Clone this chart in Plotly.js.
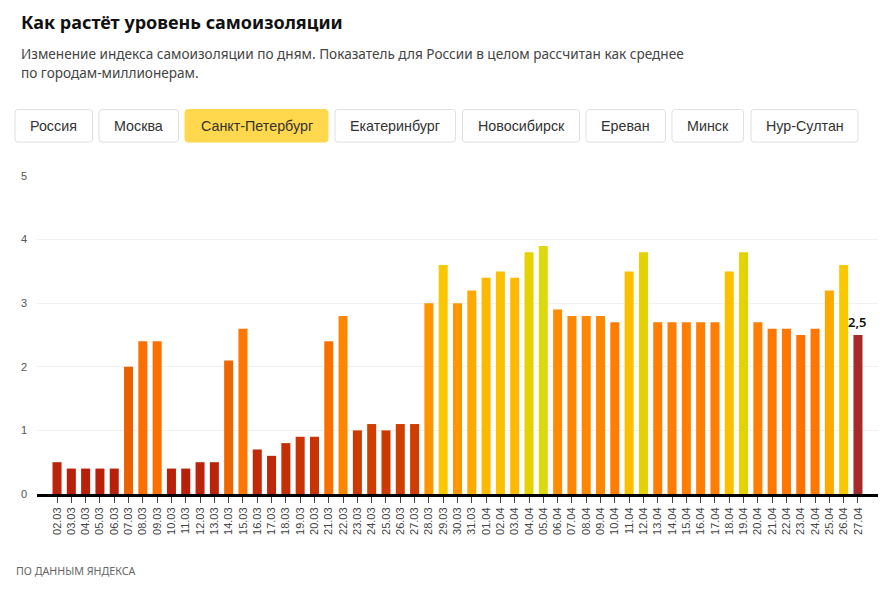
<!DOCTYPE html>
<html>
<head>
<meta charset="utf-8">
<script src="https://cdn.plot.ly/plotly-3.0.1.min.js"></script>
<style>html,body{margin:0;padding:0;background:#fff}#chart{width:892px;height:590px}</style>
</head>
<body>
<div id="chart"></div>
<script>
const dates = ["02.03","03.03","04.03","05.03","06.03","07.03","08.03","09.03","10.03","11.03","12.03","13.03","14.03","15.03","16.03","17.03","18.03","19.03","20.03","21.03","22.03","23.03","24.03","25.03","26.03","27.03","28.03","29.03","30.03","31.03","01.04","02.04","03.04","04.04","05.04","06.04","07.04","08.04","09.04","10.04","11.04","12.04","13.04","14.04","15.04","16.04","17.04","18.04","19.04","20.04","21.04","22.04","23.04","24.04","25.04","26.04","27.04"];
const values = [0.5,0.4,0.4,0.4,0.4,2.0,2.4,2.4,0.4,0.4,0.5,0.5,2.1,2.6,0.7,0.6,0.8,0.9,0.9,2.4,2.8,1.0,1.1,1.0,1.1,1.1,3.0,3.6,3.0,3.2,3.4,3.5,3.4,3.8,3.9,2.9,2.8,2.8,2.8,2.7,3.5,3.8,2.7,2.7,2.7,2.7,2.7,3.5,3.8,2.7,2.6,2.6,2.5,2.6,3.2,3.6,2.5];
const colorValues = ["0.4","0.5","0.6","0.7","0.8","0.9","1","1.1","2","2.1","2.4","2.5","2.6","2.7","2.8","2.9","3","3.2","3.4","3.5","3.6","3.8","3.9"];
const colorList = ["#b8200a","#bb230a","#bd270a","#c02a08","#c43006","#c93404","#cc3a00","#cf3d00","#ea6200","#ee6600","#fb6f00","#fd7200","#ff7600","#ff7d00","#ff8600","#ff8c00","#ff9600","#ffa800","#fdb900","#fcc000","#f9c800","#e5d205","#dcd90f"];
const lastColor = "#a52a2a";
const lastLabel = "2,5";
const cityLabels = ["Россия","Москва","Санкт-Петербург","Екатеринбург","Новосибирск","Ереван","Минск","Нур-Султан"];
const cityLeft = [15,99,185,335,462.5,586,672,751];
const cityRight = [92.5,178.5,328,455.5,579.5,665.5,743.5,858];
const activeCity = "Санкт-Петербург";
const titleText = "Как растёт уровень самоизоляции";
const subtitleLines = ["Изменение индекса самоизоляции по дням. Показатель для России в целом рассчитан как среднее","по городам-миллионерам."];
const sourceText = "ПО ДАННЫМ ЯНДЕКСА";

const W = 892, H = 590, mL = 37, mR = 14, mT = 175.5, mB = 96;
const px = x => (x - mL) / (W - mL - mR);
const py = y => 1 - (y - mT) / (H - mT - mB);
const colorOf = v => colorList[colorValues.indexOf(String(v))];
const barColors = values.map((v, i) => i === values.length - 1 ? lastColor : colorOf(v));

function roundRect(l, t, r, b, c) {
  const X = px, Y = py;
  return `M${X(l + c)},${Y(t)} L${X(r - c)},${Y(t)} Q${X(r)},${Y(t)} ${X(r)},${Y(t + c)} L${X(r)},${Y(b - c)} Q${X(r)},${Y(b)} ${X(r - c)},${Y(b)} L${X(l + c)},${Y(b)} Q${X(l)},${Y(b)} ${X(l)},${Y(b - c)} L${X(l)},${Y(t + c)} Q${X(l)},${Y(t)} ${X(l + c)},${Y(t)} Z`;
}
const note = (text, x, y, size, color, family, anchor) => ({
  text, x: px(x), y: py(y), xref: "paper", yref: "paper", showarrow: false,
  xanchor: anchor || "left", yanchor: "middle",
  font: {size, color, family}
});

const shapes = cityLabels.map((c, i) => ({
  type: "path", xref: "paper", yref: "paper", layer: "above",
  path: roundRect(cityLeft[i], 109, cityRight[i], 141.5, 3),
  fillcolor: c === activeCity ? "#ffd84d" : "#ffffff",
  line: {color: c === activeCity ? "#ffd84d" : "#dfdfdf", width: 1}
}));
const annotations = [
  note(subtitleLines[0], 19, 53, 13.6, "#444444", "Noto Sans"),
  note(subtitleLines[1], 19, 71.5, 13.6, "#444444", "Noto Sans"),
  note(sourceText, 13.5, 571, 10.7, "#666666", "Noto Sans"),
  {text: lastLabel, x: dates.length - 1, y: values[values.length - 1], xref: "x", yref: "y",
   showarrow: false, xanchor: "center", yanchor: "bottom", yshift: 2,
   font: {size: 13, color: "#111111", family: "Noto Sans", weight: 600}}
].concat(cityLabels.map((c, i) => note(c, (cityLeft[i] + cityRight[i]) / 2, 125.5, 14.3, "#333333", "Liberation Sans", "center")));

Plotly.newPlot("chart", [{
  type: "bar",
  x: dates, y: values,
  marker: {color: barColors, line: {width: 0}},
  cliponaxis: false,
  hoverinfo: "x+y"
}], {
  width: W, height: H,
  margin: {l: mL, r: mR, t: mT, b: mB, pad: 0},
  paper_bgcolor: "#ffffff", plot_bgcolor: "#ffffff",
  bargap: 0.37,
  showlegend: false,
  title: {text: titleText, x: 21 / W, xanchor: "left", y: 1 - 23 / H, yanchor: "middle",
    font: {size: 18, color: "#111111", family: "Noto Sans", weight: 700}},
  xaxis: {
    type: "category", range: [-1.4, 57.4], fixedrange: true,
    tickmode: "array", tickvals: dates, ticktext: dates,
    tickangle: -90, ticks: "outside", ticklen: 6, tickwidth: 1, tickcolor: "#444444",
    tickfont: {size: 11, color: "#444444", family: "Liberation Sans"},
    showgrid: false, zeroline: false, showline: true, linecolor: "#000000", linewidth: 3
  },
  yaxis: {
    range: [0, 5], fixedrange: true, tick0: 0, dtick: 1,
    ticks: "", ticklabelstandoff: 9,
    tickfont: {size: 11, color: "#555555", family: "Liberation Sans"},
    showgrid: true, gridcolor: "#f1f1f1", gridwidth: 1, zeroline: false, showline: false
  },
  shapes, annotations
}, {displayModeBar: false, staticPlot: true});
</script>
</body>
</html>
